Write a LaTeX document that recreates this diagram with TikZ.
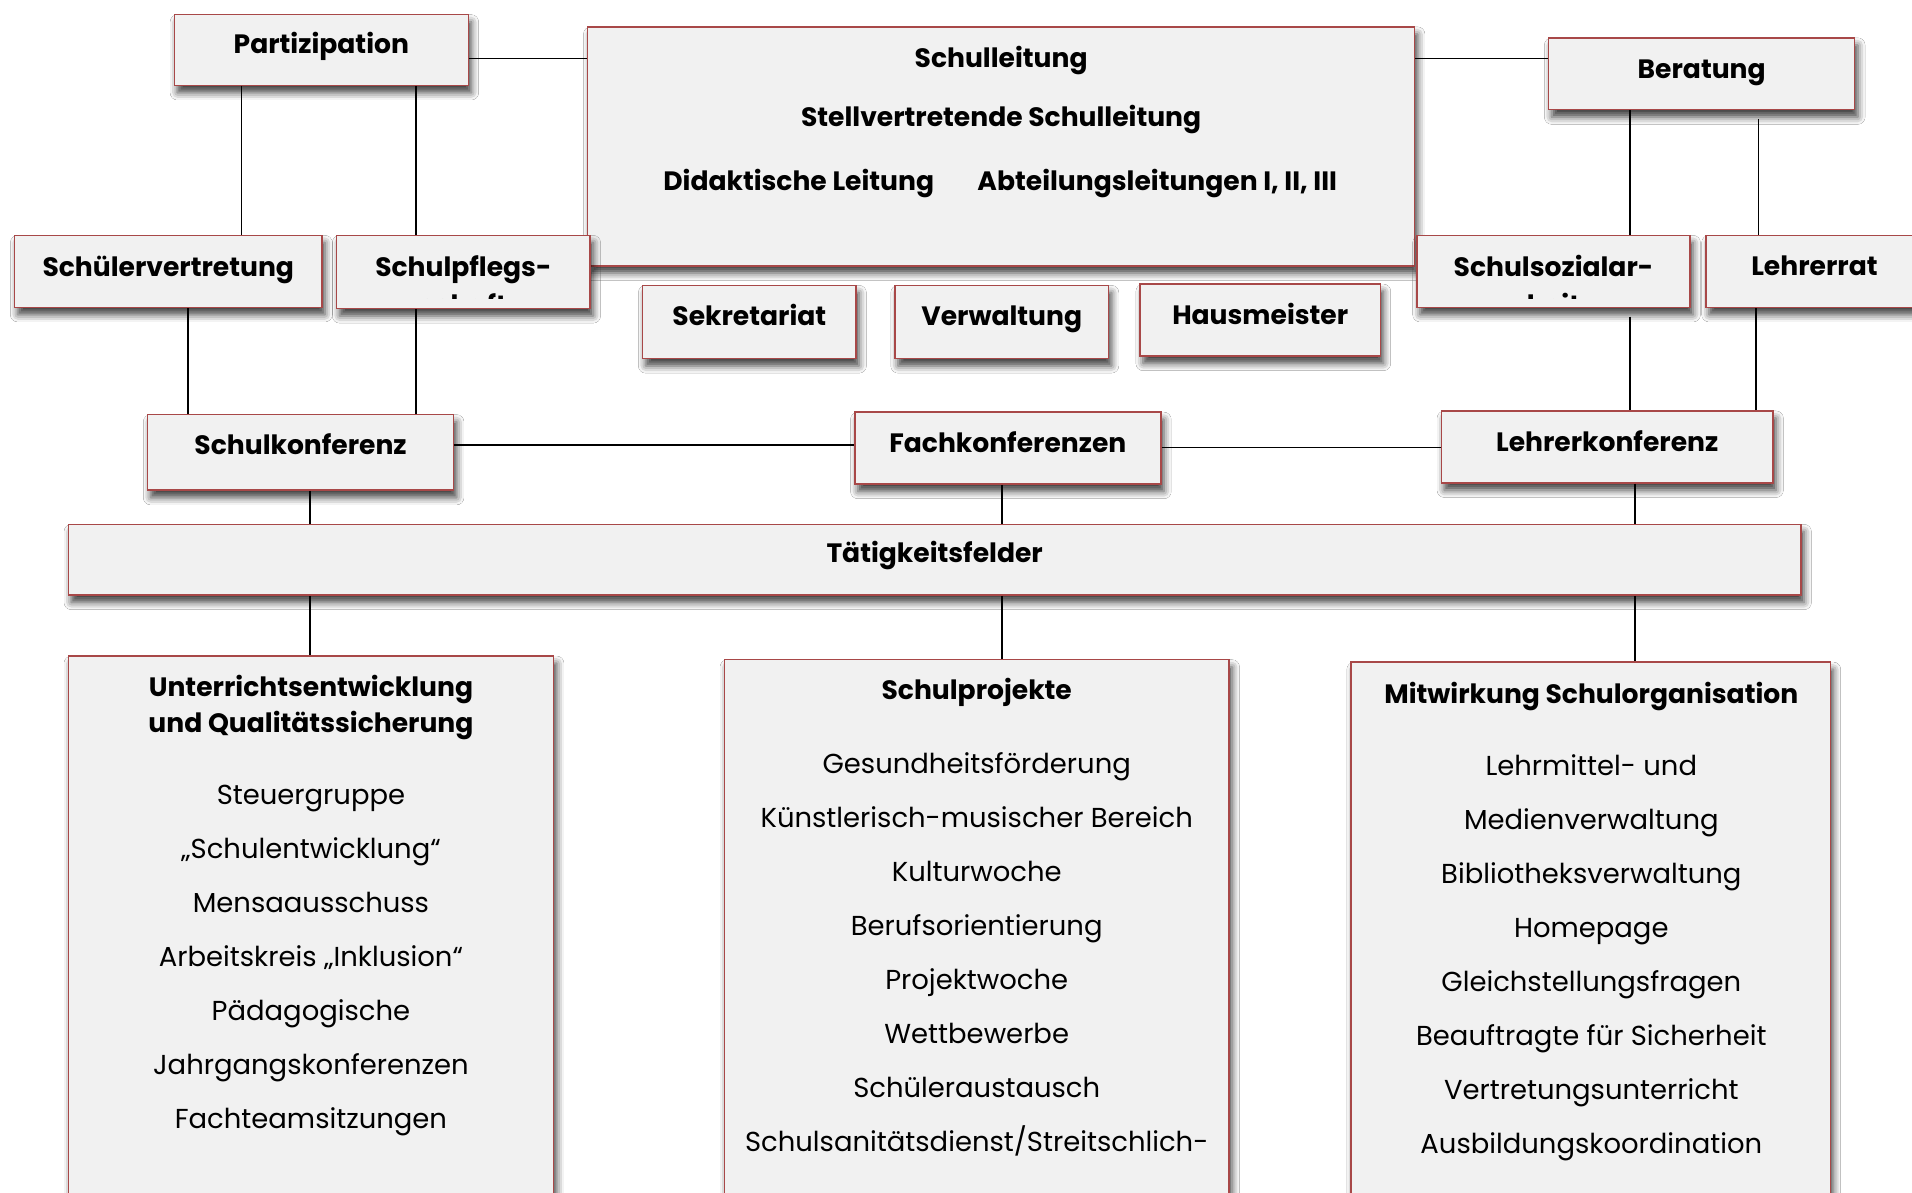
\documentclass[tikz,border=0pt]{standalone}
\usepackage{fontspec}
\setmainfont{Poppins}
\usetikzlibrary{shadows.blur}
\definecolor{boxfill}{HTML}{F1F1F1}
\definecolor{boxline}{HTML}{A84848}
\tikzset{
  orgbox/.style={draw=boxline, line width=1.2pt, fill=boxfill, inner sep=0pt,
    blur shadow={shadow xshift=2.5pt, shadow yshift=-6pt, shadow blur radius=6pt, shadow opacity=75}},
  btxt/.style={font=\fontsize{21.8}{26}\selectfont\bfseries, inner sep=0pt, anchor=base},
  rtxt/.style={font=\fontsize{22.5}{26}\selectfont, inner sep=0pt, anchor=base},
  conn/.style={draw=black, line width=1.4pt}
}
\newcommand\obox[7]{%
  \node[orgbox, minimum width={#4-#2}, minimum height={#5-#3}] (#1) at ({(#2+#4)/2},{(#3+#5)/2}) {};
  \node[btxt] (#1-t) at ({(#2+#4)/2},{#6+8}) {#7};}
\begin{document}
\begin{tikzpicture}[x=1pt,y=-1pt]
\fill[white] (0,0) rectangle (1568,978);
\clip (0,0) rectangle (1568,978);
% boxes
\obox{parti}{143}{12}{384}{70}{36}{Partizipation}
\obox{sl}{482}{22}{1160}{218}{47}{Schulleitung}
\node[btxt] (sl-t2) at (821,104) {Stellvertretende Schulleitung};
\node[btxt] (sl-t3) at (655,156) {Didaktische Leitung};
\node[btxt] (sl-t4) at (949,156) {Abteilungsleitungen I, II, III};
\obox{ber}{1270}{31}{1521}{90}{56}{Beratung}
\obox{sv}{12}{193}{264}{252}{219}{Schülervertretung}
\node[orgbox, minimum width=208, minimum height=60] (spf) at (380,223) {};
\begin{scope}
  \clip (277,194) rectangle (483,245);
  \node[btxt] (spf-t) at (380,227) {Schulpflegs-};
  \node[btxt] (spf-t2) at (380,258) {schaft};
\end{scope}
\node[orgbox, minimum width=224, minimum height=59] (sso) at (1274,222.5) {};
\begin{scope}
  \clip (1163,194) rectangle (1385,245);
  \node[btxt] (sso-t) at (1274,227) {Schulsozialar-};
  \node[btxt] (sso-t2) at (1274,258) {beit};
\end{scope}
\obox{lr}{1399}{193}{1577}{252}{218}{Lehrerrat}
\obox{sek}{527}{234}{702}{294}{259}{Sekretariat}
\obox{verw}{734}{234}{909}{294}{259}{Verwaltung}
\obox{haus}{935}{233}{1132}{292}{258}{Hausmeister}
\obox{sk}{121}{340}{372}{402}{365}{Schulkonferenz}
\obox{fk}{701}{338}{952}{397}{363}{Fachkonferenzen}
\obox{lk}{1182}{337}{1454}{396}{362}{Lehrerkonferenz}
\obox{tf}{56}{430}{1477}{488}{453}{Tätigkeitsfelder}
\node[orgbox, minimum width=398, minimum height=470] (ue) at (255,773) {};
\node[orgbox, minimum width=414, minimum height=470] (sp) at (801,776) {};
\node[orgbox, minimum width=393, minimum height=470] (ms) at (1304.5,778) {};
% titles
\node[btxt] (ue-t1) at (255,571) {Unterrichtsentwicklung};
\node[btxt] (ue-t2) at (255,601) {und Qualitätssicherung};
\node[btxt] (sp-t1) at (801,574) {Schulprojekte};
\node[btxt] (ms-t1) at (1305,577) {Mitwirkung Schulorganisation};
% items
\foreach \t [count=\i from 0] in {Steuergruppe,„Schulentwicklung“,Mensaausschuss,Arbeitskreis „Inklusion“,Pädagogische,Jahrgangskonferenzen,Fachteamsitzungen}
  \node[rtxt] (ue-i\i) at (255,{660+44.3*\i}) {\t};
\foreach \t [count=\i from 0] in {Gesundheitsförderung,Künstlerisch-musischer Bereich,Kulturwoche,Berufsorientierung,Projektwoche,Wettbewerbe,Schüleraustausch,Schulsanitätsdienst/Streitschlich-}
  \node[rtxt] (sp-i\i) at (801,{634+44.3*\i}) {\t};
\foreach \t [count=\i from 0] in {Lehrmittel- und,Medienverwaltung,Bibliotheksverwaltung,Homepage,Gleichstellungsfragen,Beauftragte für Sicherheit,Vertretungsunterricht,Ausbildungskoordination}
  \node[rtxt] (ms-i\i) at (1305,{636+44.3*\i}) {\t};
% connectors
\coordinate (h48) at (0,48);
\coordinate (h365) at (0,365);
\coordinate (h367) at (0,367);
\coordinate (x198) at (198,0);
\coordinate (x341) at (341,0);
\coordinate (x154) at (154,0);
\coordinate (x1337) at (1337,0);
\coordinate (x1442) at (1442,0);
\coordinate (x1440) at (1440,0);
\coordinate (x254) at (254,0);
\coordinate (x822) at (822,0);
\coordinate (x1341) at (1341,0);
\draw[conn] (parti.east |- h48) -- (sl.west |- h48);
\draw[conn] (sl.east |- h48) -- (ber.west |- h48);
\draw[conn] (parti.south -| x198) -- (sv.north -| x198);
\draw[conn] (parti.south -| x341) -- (spf.north -| x341);
\draw[conn] (ber.south -| x1337) -- (sso.north -| x1337);
\draw[conn] ([yshift=-7pt]ber.south -| x1442) -- (lr.north -| x1442);
\draw[conn] (sv.south -| x154) -- (sk.north -| x154);
\draw[conn] (spf.south -| x341) -- (sk.north -| x341);
\draw[conn] ([yshift=-7pt]sso.south -| x1337) -- (lk.north -| x1337);
\draw[conn] (lr.south -| x1440) -- (lk.north -| x1440);
\draw[conn] (sk.east |- h365) -- (fk.west |- h365);
\draw[conn] (fk.east |- h367) -- (lk.west |- h367);
\draw[conn] (sk.south -| x254) -- (tf.north -| x254);
\draw[conn] (fk.south -| x822) -- (tf.north -| x822);
\draw[conn] (lk.south -| x1341) -- (tf.north -| x1341);
\draw[conn] (tf.south -| x254) -- (ue.north -| x254);
\draw[conn] (tf.south -| x822) -- (sp.north -| x822);
\draw[conn] (tf.south -| x1341) -- (ms.north -| x1341);
\end{tikzpicture}
\end{document}
